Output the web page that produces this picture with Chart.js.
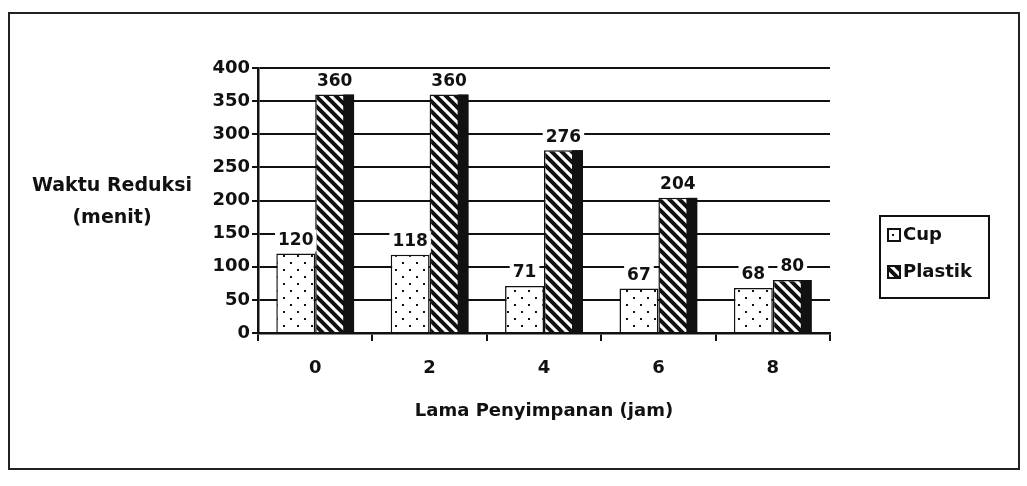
<!DOCTYPE html>
<html>
<head>
<meta charset="utf-8">
<script src="https://cdn.jsdelivr.net/npm/chart.js@4.4.0/dist/chart.umd.min.js"></script>
<style>
  body { margin: 0; background: #fff; }
  #wrap { position: relative; width: 1027px; height: 486px; }
  #frame { position: absolute; left: 8px; top: 12px; width: 1012px; height: 458px; border: 2px solid #222; box-sizing: border-box; }
  canvas { position: absolute; left: 0; top: 0; }
</style>
</head>
<body>
<div id="wrap">
  <div id="frame"></div>
  <canvas id="chart" width="1027" height="486"></canvas>
</div>
<script>
const categories = ["0", "2", "4", "6", "8"];
const cupValues = [120, 118, 71, 67, 68];
const plastikValues = [360, 360, 276, 204, 80];
const seriesNames = ["Cup", "Plastik"];
const yTitleLines = ["Waktu Reduksi", "(menit)"];
const xTitle = "Lama Penyimpanan (jam)";

const FONT = "'DejaVu Sans', sans-serif";

// fill patterns, like the old excel 3d chart
function dotPattern() {
  const c = document.createElement("canvas");
  c.width = 14; c.height = 14;
  const g = c.getContext("2d");
  g.fillStyle = "#fff";
  g.fillRect(0, 0, 14, 14);
  g.fillStyle = "#111";
  g.fillRect(3, 3, 2, 2);
  g.fillRect(10, 10, 2, 2);
  return g.createPattern(c, "repeat");
}

function hatchPattern() {
  const c = document.createElement("canvas");
  c.width = 10; c.height = 10;
  const g = c.getContext("2d");
  g.fillStyle = "#fff";
  g.fillRect(0, 0, 10, 10);
  g.strokeStyle = "#111";
  g.lineWidth = 4;
  g.beginPath();
  g.moveTo(-5, -5); g.lineTo(15, 15);
  g.moveTo(-15, -5); g.lineTo(5, 15);
  g.moveTo(5, -5); g.lineTo(25, 15);
  g.stroke();
  return g.createPattern(c, "repeat");
}

const ctx = document.getElementById("chart").getContext("2d");

// dark side face on the hatched bars
const sideFace = {
  id: "sideFace",
  afterDatasetsDraw(chart) {
    const c = chart.ctx;
    const meta = chart.getDatasetMeta(1);
    c.save();
    c.fillStyle = "#111";
    meta.data.forEach((bar) => {
      const w = bar.width * 0.28;
      c.fillRect(bar.x + bar.width / 2 - w, bar.y, w, bar.base - bar.y);
    });
    c.restore();
  },
};

const valueLabels = {
  id: "valueLabels",
  afterDatasetsDraw(chart) {
    const c = chart.ctx;
    c.save();
    c.font = "bold 17px " + FONT;
    c.textAlign = "center";
    c.textBaseline = "middle";
    chart.data.datasets.forEach((ds, i) => {
      chart.getDatasetMeta(i).data.forEach((bar, j) => {
        const txt = String(ds.data[j]);
        const w = c.measureText(txt).width + 6;
        const y = bar.y - 13;
        c.fillStyle = "#fff";
        c.fillRect(bar.x - w / 2, y - 11, w, 22);
        c.fillStyle = "#111";
        c.fillText(txt, bar.x, y);
      });
    });
    c.restore();
  },
};

// horizontal y title and boxed legend on the right
const extras = {
  id: "extras",
  afterDraw(chart) {
    const c = chart.ctx;
    c.save();
    c.font = "bold 19px " + FONT;
    c.fillStyle = "#111";
    c.textAlign = "center";
    c.textBaseline = "middle";
    c.fillText(yTitleLines[0], 112, 186);
    c.fillText(yTitleLines[1], 112, 218);

    c.strokeStyle = "#111";
    c.lineWidth = 2;
    c.strokeRect(880, 216, 109, 82);
    c.textAlign = "left";
    c.font = "bold 18px " + FONT;
    chart.data.datasets.forEach((ds, i) => {
      const y = 235 + i * 37;
      c.fillStyle = ds.backgroundColor;
      c.fillRect(888, y - 6, 12, 12);
      c.lineWidth = 2;
      c.strokeRect(888, y - 6, 12, 12);
      c.fillStyle = "#111";
      c.fillText(ds.label, 903, y);
    });
    c.restore();
  },
};

new Chart(ctx, {
  type: "bar",
  data: {
    labels: categories,
    datasets: [
      {
        label: seriesNames[0],
        data: cupValues,
        backgroundColor: dotPattern(),
        borderColor: "#111",
        borderWidth: 1.5,
      },
      {
        label: seriesNames[1],
        data: plastikValues,
        backgroundColor: hatchPattern(),
        borderColor: "#111",
        borderWidth: 1.5,
      },
    ],
  },
  options: {
    responsive: false,
    animation: false,
    layout: { padding: { left: 198, right: 197, top: 68, bottom: 60 } },
    datasets: { bar: { categoryPercentage: 0.68, barPercentage: 1 } },
    plugins: {
      legend: { display: false },
      tooltip: { enabled: false },
    },
    scales: {
      x: {
        afterFit: (s) => { s.height = 93; },
        grid: { offset: true, drawOnChartArea: false, color: "#111", tickLength: 8, lineWidth: 2 },
        border: { color: "#111", width: 2.5 },
        ticks: { color: "#111", padding: 17, font: { family: FONT, size: 18, weight: "bold" } },
        title: { display: true, text: xTitle, color: "#111", font: { family: FONT, size: 18, weight: "bold" } },
      },
      y: {
        min: 0,
        max: 400,
        afterFit: (s) => { s.width = 60; },
        grid: { color: "#111", lineWidth: 2, tickLength: 6 },
        border: { color: "#111", width: 2.5 },
        ticks: { stepSize: 50, color: "#111", padding: 2, font: { family: FONT, size: 18, weight: "bold" } },
      },
    },
  },
  plugins: [sideFace, valueLabels, extras],
});
</script>
</body>
</html>
